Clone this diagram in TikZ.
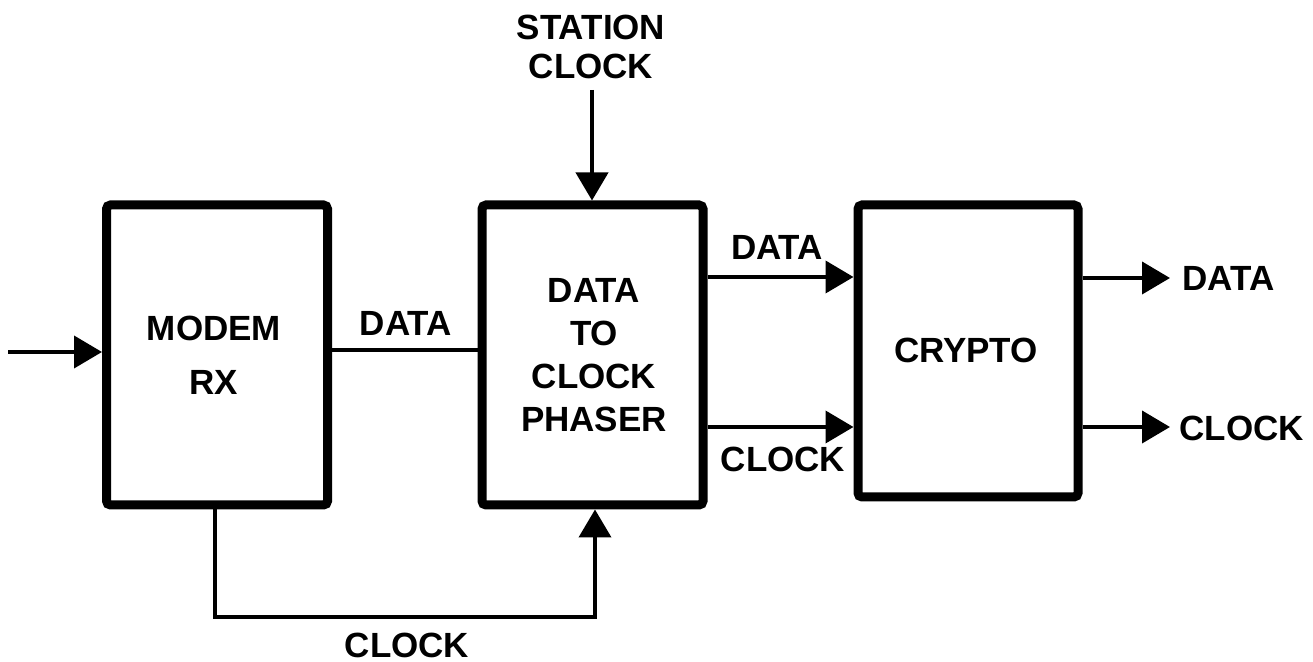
\documentclass[tikz,border=0pt]{standalone}
\usepackage{fontspec}
\setmainfont{Liberation Sans}
\usetikzlibrary{arrows.meta}
\begin{document}
\begin{tikzpicture}[x=0.5pt,y=-0.5pt,
  blk/.style={draw,line width=4.5pt,rounded corners=2pt,minimum width=110pt,minimum height=150pt,inner sep=0pt},
  lbl/.style={font=\fontsize{17.5}{21.5}\selectfont\bfseries,align=center,inner sep=0pt},
  wire/.style={line width=2pt},
  arr/.style={wire,-{Triangle[length=14pt,width=16pt]}},
  every node/.style={text depth=0pt}]
\useasboundingbox (0,0) rectangle (1313,662);
% blocks
\node[blk,minimum width=110.5pt] (modem) at (217,355) {};
\node[lbl,font=\fontsize{17.5}{27}\selectfont\bfseries] (modemtxt) at (214,355) {MODEM\\RX};
\node[blk,minimum width=110.5pt] (phaser) at (592.5,355) {};
\node[lbl] (phasertxt) at (594,355) {DATA\\TO\\CLOCK\\PHASER};
\node[blk,minimum width=110pt,minimum height=146pt] (crypto) at (968,351) {};
\node[lbl] (cryptotxt) at (966,350) {CRYPTO};
% input
\coordinate (in) at (8,352);
\draw[arr] (in) -- (in -| modem.west);
% data modem -> phaser
\coordinate (d1) at (0,350);
\draw[wire] (d1 -| modem.east) -- (d1 -| phaser.west);
\node[lbl] (d1lbl) at (406,323) {DATA};
% station clock
\node[lbl,font=\fontsize{17.5}{19.5}\selectfont\bfseries] (st) at (591,47) {STATION\\CLOCK};
\coordinate (sttop) at (592,90);
\draw[arr] (sttop) -- (sttop |- phaser.north);
% clock loop
\coordinate (c1) at (215,617);
\coordinate (c2) at (595,617);
\draw[arr] (c1 |- modem.south) -- (c1) -- (c2) -- (c2 |- phaser.south);
\node[lbl] (c1lbl) at (407,645) {CLOCK};
% phaser -> crypto
\coordinate (d2) at (0,277);
\coordinate (k2) at (0,427);
\draw[arr] (d2 -| phaser.east) -- (d2 -| crypto.west);
\draw[arr] (k2 -| phaser.east) -- (k2 -| crypto.west);
\node[lbl] (d2lbl) at (777,247) {DATA};
\node[lbl] (k2lbl) at (783,459) {CLOCK};
% outputs
\coordinate (d3) at (1170,278);
\coordinate (k3) at (1170,427);
\draw[arr] (d3 -| crypto.east) -- (d3);
\draw[arr] (k3 -| crypto.east) -- (k3);
\node[lbl,anchor=west] (d3lbl) at (1182,278) {DATA};
\node[lbl,anchor=west] (k3lbl) at (1179,428) {CLOCK};
\end{tikzpicture}
\end{document}
